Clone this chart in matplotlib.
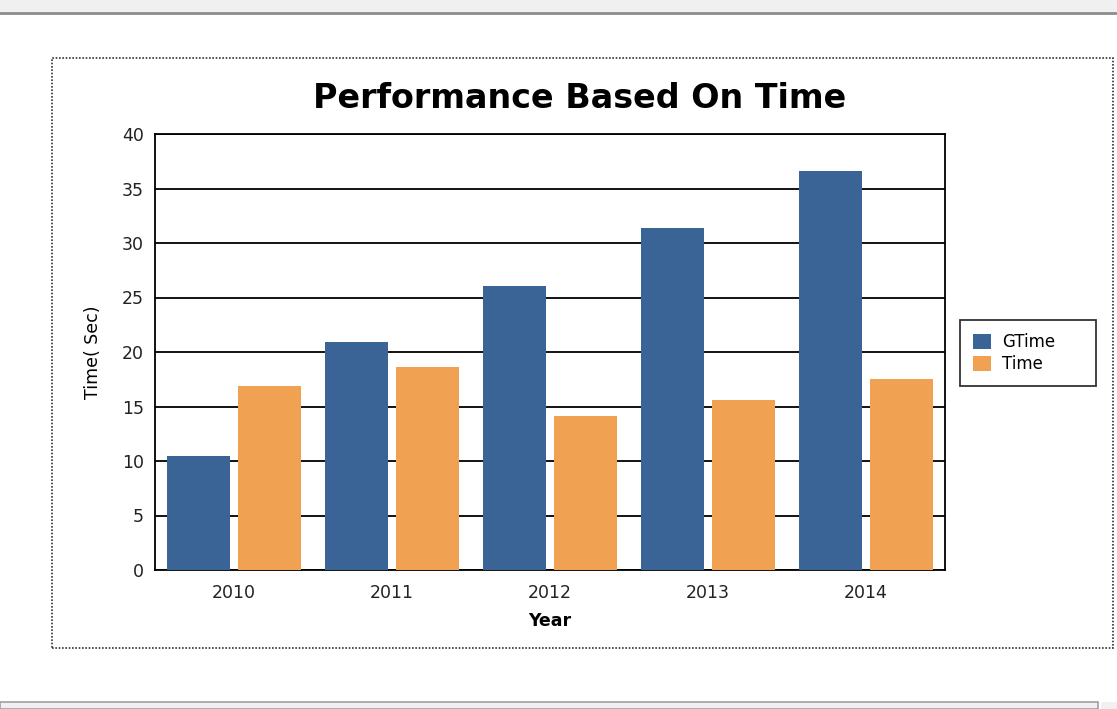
import matplotlib.pyplot as plt
import numpy as np
from matplotlib.patches import Rectangle

# chart data
years = ["2010", "2011", "2012", "2013", "2014"]
gtime = [10.5, 20.9, 26.1, 31.4, 36.6]
time_vals = [16.9, 18.6, 14.1, 15.6, 17.5]
yticks = [0, 5, 10, 15, 20, 25, 30, 35, 40]

plt.rcParams['font.family'] = ['DejaVu Sans']

W, H = 1117, 709
fig = plt.figure(figsize=(W / 100, H / 100), dpi=100)
fig.patch.set_facecolor("white")

def fx(px):
    return px / W

def fy(py):
    return 1 - py / H

# window chrome: top band and bottom panel
fig.patches.append(Rectangle((0, fy(12)), 1, 12 / H, transform=fig.transFigure,
                             facecolor="#f0f0f0", edgecolor="none", zorder=0))
fig.lines.append(plt.Line2D([0, 1], [fy(13), fy(13)], transform=fig.transFigure,
                            color="#8c8c8c", lw=2))
fig.patches.append(Rectangle((0, 0), fx(1098), 7 / H, transform=fig.transFigure,
                             facecolor="#f0f0f0", edgecolor="#a0a0a0", lw=1.2, zorder=0))
fig.patches.append(Rectangle((fx(1101), 0), fx(16), 7 / H, transform=fig.transFigure,
                             facecolor="#f0f0f0", edgecolor="none", zorder=0))

# dotted frame around chart
fig.patches.append(Rectangle((fx(52), fy(648)), fx(1113 - 52), (648 - 58) / H,
                             transform=fig.transFigure, facecolor="none",
                             edgecolor="#333333", lw=1.2, linestyle=(0, (1, 1))))

ax = fig.add_axes([fx(155), fy(570), fx(945 - 155), (570 - 134) / H])

x = np.arange(len(years))
w = 0.40
b1 = ax.bar(x - 0.225, gtime, w, color="#3a6496", label="GTime", zorder=3)
b2 = ax.bar(x + 0.225, time_vals, w, color="#f0a252", label="Time", zorder=3)

ax.set_xlim(-0.5, len(years) - 0.5)
ax.set_ylim(0, 40)
ax.set_yticks(yticks)
ax.set_xticks(x)
ax.set_xticklabels(years)
ax.tick_params(axis="y", labelsize=12.5, length=0, pad=8, labelcolor="#222222")
ax.tick_params(axis="x", labelsize=12.5, length=0, pad=10, labelcolor="#222222")
ax.yaxis.grid(True, color="black", lw=1.3, zorder=0)
ax.set_axisbelow(True)
for s in ax.spines.values():
    s.set_linewidth(1.3)
    s.set_zorder(1)

ax.set_xlabel("Year", fontsize=12.5, fontweight="bold", labelpad=7)
ax.set_ylabel("Time( Sec)", fontsize=12.5, labelpad=14)
fig.text(fx(580), fy(108), "Performance Based On Time", fontsize=24,
         fontweight="bold", ha="center", va="baseline")

leg = fig.legend(handles=[b1, b2], loc="center left", mode="expand",
                 bbox_to_anchor=(fx(960), fy(387), fx(136), 68 / H), fontsize=12,
                 frameon=True, fancybox=False, edgecolor="black",
                 handlelength=1.08, handleheight=0.96, handletextpad=0.66,
                 labelspacing=0.24, borderpad=0.8, borderaxespad=0)
leg.get_frame().set_linewidth(1.3)

fig.savefig("out.png", dpi=100)
